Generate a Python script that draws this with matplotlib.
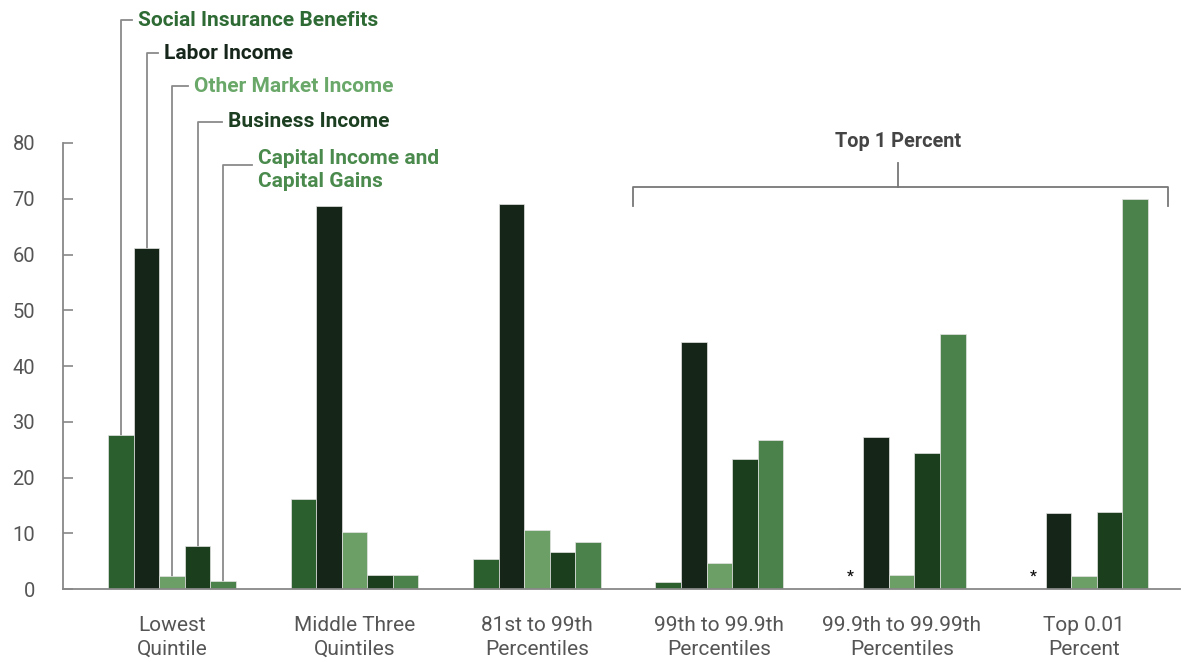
import numpy as np
import matplotlib
matplotlib.use('Agg')
from matplotlib import pyplot as plt

groups = ['Lowest\nQuintile', 'Middle Three\nQuintiles', '81st to 99th\nPercentiles',
          '99th to 99.9th\nPercentiles', '99.9th to 99.99th\nPercentiles', 'Top 0.01\nPercent']
series = ['Social Insurance Benefits', 'Labor Income', 'Other Market Income',
          'Business Income', 'Capital Income and\nCapital Gains']

social = [27.6, 16.2, 5.4, 1.2, 0.3, 0.0]
labor = [61.2, 68.7, 69.0, 44.4, 27.2, 13.7]
other_market = [2.3, 10.2, 10.6, 4.7, 2.5, 2.4]
business = [7.8, 2.5, 6.7, 23.3, 24.4, 13.9]
capital = [1.5, 2.5, 8.5, 26.8, 45.7, 70.0]

# groups whose social insurance share rounds to zero get an asterisk
starred = [4, 5]

values = [social, labor, other_market, business, capital]
colors = ['#2c5f2e', '#152618', '#6b9f66', '#1b3f1d', '#4b814b']
text_colors = ['#2e6b34', '#16261a', '#6aa86a', '#1b3f20', '#4a8a4c']

plt.rcParams['font.family'] = ['Roboto', 'DejaVu Sans']

fig = plt.figure(figsize=(11.89, 6.62), dpi=100)
ax = fig.add_axes([0.053, 0.110, 0.9395, 0.674])

x = np.arange(len(groups))
w = 0.140
for i, (vals, c) in enumerate(zip(values, colors)):
    ax.bar(x + (i - 2) * w, vals, w, color=c, edgecolor='#e4e4e4', linewidth=0.5, zorder=2)

for g in starred:
    ax.text(x[g] - 2 * w, 2.2, '*', ha='center', va='center', fontsize=11,
            fontweight='bold', color='#111111')

ax.set_xlim(-0.598, 5.526)
ax.set_ylim(0, 80)
ax.set_yticks(range(0, 81, 10))
ax.set_xticks(x)
ax.set_xticklabels(groups, fontsize=15, color='#555555', linespacing=1.35)
ax.tick_params(axis='x', length=0, pad=19)
ax.tick_params(axis='y', direction='in', length=7, width=1.2, color='#888888',
               labelsize=14.5, labelcolor='#555555', pad=20)

for s in ['top', 'right']:
    ax.spines[s].set_visible(False)
for s in ['left', 'bottom']:
    ax.spines[s].set_color('#888888')
    ax.spines[s].set_linewidth(1.3)

# leader lines from the first group's bars up to the series names
label_y = [102.0, 96.1, 90.2, 83.8, 76.1]
line_end = [-0.219, -0.077, 0.088, 0.274, 0.439]
for i in range(5):
    bx = x[0] + (i - 2) * w
    ax.plot([bx, bx, line_end[i]], [values[i][0], label_y[i], label_y[i]],
            color='#8a8a8a', linewidth=1.3, clip_on=False, zorder=1)
    ty = label_y[i] - 0.9 if i == 4 else label_y[i]
    ax.text(line_end[i] + 0.03, ty, series[i], ha='left', va='center',
            fontsize=15, fontweight='bold', color=text_colors[i],
            linespacing=1.3, clip_on=False)

# bracket over the top 1 percent groups
ax.plot([2.527, 2.527, 5.46, 5.46], [68.7, 72.1, 72.1, 68.7],
        color='#777777', linewidth=1.3, clip_on=False)
ax.plot([3.98, 3.98], [72.1, 76.4], color='#777777', linewidth=1.3, clip_on=False)
ax.text(3.98, 80.2, 'Top 1 Percent', ha='center', va='center', fontsize=14.3,
        fontweight='bold', color='#444444', clip_on=False)

fig.savefig('out.png', dpi=100)
